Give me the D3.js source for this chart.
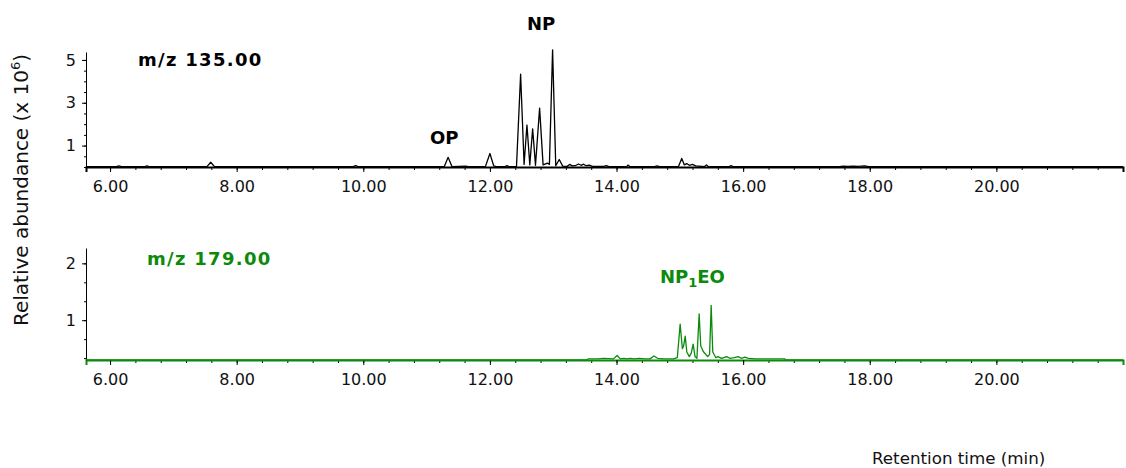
<!DOCTYPE html>
<html>
<head>
<meta charset="utf-8">
<script src="https://cdn.jsdelivr.net/npm/d3@7"></script>
<style>
  html, body { margin: 0; padding: 0; background: #fff; }
  svg { display: block; font-family: "DejaVu Sans", Verdana, sans-serif; }
</style>
</head>
<body>
<svg id="chart" width="1126" height="468"></svg>
<script>
// Retention time axis (min)
const timeDomain = [5.62, 22.0];
const majorTimeTicks = [6, 8, 10, 12, 14, 16, 18, 20];
const minorTimeTicks = d3.range(0, 41).map(i => 6 + i * 0.4);

// m/z 135.00 trace: [retention time, abundance x10^6]
const mz135 = [
  [5.62,0.02],[6.10,0.02],[6.14,0.05],[6.18,0.02],[6.55,0.02],[6.58,0.05],[6.62,0.02],
  [7.00,0.02],[7.53,0.02],[7.59,0.22],[7.65,0.02],[8.40,0.02],[9.84,0.02],[9.88,0.06],
  [9.92,0.02],[11.28,0.02],[11.34,0.45],[11.40,0.02],[11.62,0.04],[11.66,0.02],
  [11.93,0.03],[12.00,0.63],[12.06,0.05],[12.10,0.02],[12.24,0.02],[12.27,0.06],
  [12.30,0.02],[12.42,0.03],[12.485,4.33],[12.54,0.12],[12.585,1.96],[12.63,0.10],
  [12.675,1.78],[12.72,0.08],[12.785,2.75],[12.84,0.10],[12.91,0.18],[12.94,0.12],
  [12.99,5.47],[13.04,0.06],[13.095,0.35],[13.15,0.04],[13.22,0.03],[13.26,0.12],
  [13.30,0.05],[13.36,0.08],[13.40,0.14],[13.44,0.08],[13.48,0.13],[13.52,0.06],
  [13.57,0.09],[13.62,0.03],[13.80,0.03],[13.84,0.06],[13.88,0.02],[14.16,0.02],
  [14.18,0.09],[14.21,0.02],[14.60,0.02],[14.64,0.05],[14.68,0.02],[14.98,0.03],
  [15.03,0.40],[15.07,0.10],[15.11,0.16],[15.15,0.08],[15.20,0.12],[15.25,0.05],
  [15.39,0.02],[15.42,0.10],[15.45,0.02],[15.78,0.02],[15.81,0.06],[15.84,0.02],
  [17.52,0.02],[17.58,0.04],[17.66,0.03],[17.74,0.04],[17.82,0.03],[17.92,0.05],
  [17.98,0.02],[22.0,0.02]
];

// m/z 179.00 trace: [retention time, abundance x10^6]
const mz179 = [
  [5.62,0.30],[13.53,0.30],[13.55,0.32],[13.70,0.32],[13.80,0.33],[13.95,0.32],
  [14.01,0.38],[14.06,0.32],[14.12,0.33],[14.16,0.32],[14.22,0.33],[14.28,0.32],
  [14.36,0.33],[14.45,0.32],[14.53,0.32],[14.59,0.37],[14.65,0.33],[14.75,0.32],
  [14.90,0.32],[14.96,0.34],[15.005,0.93],[15.04,0.50],[15.06,0.55],[15.085,0.72],
  [15.11,0.44],[15.15,0.36],[15.18,0.42],[15.21,0.58],[15.24,0.36],[15.27,0.33],
  [15.305,1.11],[15.33,0.55],[15.37,0.45],[15.44,0.36],[15.47,0.40],[15.495,1.26],
  [15.52,0.44],[15.57,0.34],[15.60,0.36],[15.66,0.33],[15.74,0.36],[15.79,0.33],
  [15.86,0.34],[15.92,0.36],[15.97,0.33],[16.03,0.35],[16.08,0.33],[16.20,0.32],
  [16.40,0.32],[16.66,0.32],[16.67,0.30],[22.0,0.30]
];

// Abundance axes
const topDomain = [0, 5.37];
const topMajorTicks = [1, 3, 5];
const topMinorTicks = d3.range(0, 11).map(i => i * 0.5);
const bottomDomain = [0.3, 2.27];
const bottomMajorTicks = [1, 2];
const bottomMinorTicks = d3.range(1, 7).map(i => i / 3);

const green = "#0b8a0b";
const svg = d3.select("#chart");

const x = d3.scaleLinear().domain(timeDomain).range([86, 1123]);

function panel(cfg) {
  const y = d3.scaleLinear().domain(cfg.domain).range([cfg.bottom, cfg.top]);
  const g = svg.append("g");

  // minor time ticks
  g.append("g")
    .attr("transform", `translate(0,${cfg.bottom})`)
    .call(d3.axisBottom(x).tickValues(minorTimeTicks).tickSize(3).tickFormat(""))
    .call(a => a.select(".domain").remove());

  // major time ticks with labels
  const xa = g.append("g")
    .attr("transform", `translate(0,${cfg.bottom})`)
    .call(d3.axisBottom(x).tickValues(majorTimeTicks).tickSize(5).tickPadding(9)
      .tickFormat(d3.format(".2f")));
  xa.select(".domain").attr("stroke-width", 2).attr("stroke", cfg.axisColor);
  xa.selectAll("text").attr("font-size", 16).attr("font-family", "DejaVu Sans, Verdana, sans-serif")
    .attr("fill", "#111");

  // minor abundance ticks
  g.append("g")
    .attr("transform", `translate(86,0)`)
    .call(d3.axisLeft(y).tickValues(cfg.minor.filter(v => v >= cfg.domain[0] && v <= cfg.domain[1]))
      .tickSize(2).tickFormat(""))
    .call(a => a.select(".domain").remove());

  // major abundance ticks
  const ya = g.append("g")
    .attr("transform", `translate(86,0)`)
    .call(d3.axisLeft(y).tickValues(cfg.major).tickSize(4).tickPadding(6)
      .tickFormat(d3.format("d")).tickSizeOuter(0));
  ya.selectAll("text").attr("font-size", 16).attr("font-family", "DejaVu Sans, Verdana, sans-serif")
    .attr("fill", "#111");

  // chromatogram trace
  const line = d3.line().x(d => x(d[0])).y(d => y(d[1]));
  g.append("path")
    .datum(cfg.data)
    .attr("fill", "none")
    .attr("stroke", cfg.color)
    .attr("stroke-width", cfg.width)
    .attr("stroke-linejoin", "round")
    .attr("d", line);

  return y;
}

panel({ domain: topDomain, top: 52, bottom: 167, major: topMajorTicks, minor: topMinorTicks,
        data: mz135, color: "#000", width: 1.3, axisColor: "#000" });
panel({ domain: bottomDomain, top: 248, bottom: 360, major: bottomMajorTicks, minor: bottomMinorTicks,
        data: mz179, color: green, width: 1.3, axisColor: green });

// bold annotations
function label(txt, xPos, yPos, color, spacing) {
  return svg.append("text")
    .attr("x", xPos).attr("y", yPos)
    .attr("font-size", 18).attr("font-weight", "bold")
    .attr("letter-spacing", spacing || 0)
    .attr("fill", color).text(txt);
}
label("m/z 135.00", 138, 66, "#000", 1.3);
label("NP", 527, 30, "#000");
label("OP", 430, 144, "#000");
label("m/z 179.00", 147, 265, green, 1.3);

const np1 = svg.append("text")
  .attr("x", 660).attr("y", 283)
  .attr("font-size", 18).attr("font-weight", "bold").attr("fill", green);
np1.append("tspan").text("NP");
np1.append("tspan").attr("font-size", 13).attr("dy", 4).text("1");
np1.append("tspan").attr("dy", -4).text("EO");

// axis titles
const yTitle = svg.append("text")
  .attr("transform", "translate(28,190) rotate(-90)")
  .attr("text-anchor", "middle")
  .attr("font-size", 20).attr("fill", "#111");
yTitle.append("tspan").text("Relative abundance (x 10");
yTitle.append("tspan").attr("font-size", 13).attr("dy", -8).text("6");
yTitle.append("tspan").attr("dy", 8).text(")");

svg.append("text")
  .attr("x", 872).attr("y", 464)
  .attr("font-size", 16.7).attr("fill", "#111")
  .text("Retention time (min)");
</script>
</body>
</html>
